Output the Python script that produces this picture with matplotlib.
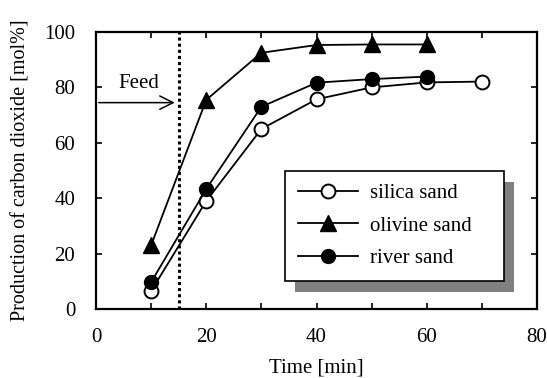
"""Carbon dioxide production vs time for three bed materials."""

import matplotlib
matplotlib.use('Agg')
import matplotlib.pyplot as plt
from matplotlib.patches import Rectangle
from matplotlib.transforms import offset_copy

plt.rcParams['font.family'] = ['Liberation Serif', 'DejaVu Serif']

# data
silica_t = [10, 20, 30, 40, 50, 60, 70]
silica_v = [6.5, 39, 65, 75.7, 80, 81.8, 82.1]
olivine_t = [10, 20, 30, 40, 50, 60]
olivine_v = [23, 75.5, 92.5, 95.3, 95.5, 95.5]
river_t = [10, 20, 30, 40, 50, 60]
river_v = [9.7, 43.3, 73, 81.7, 83, 83.9]
feed_time = 15

fig = plt.figure(figsize=(5.47, 3.78), dpi=100, facecolor='white')
ax = fig.add_axes([96 / 547, 1 - 309 / 378, (537 - 96) / 547, (309 - 32) / 378])

ms = 10
ax.plot(silica_t, silica_v, color='black', lw=1.3, marker='o', ms=ms,
        mfc='white', mec='black', mew=1.4, label='silica sand', zorder=3)
ax.plot(olivine_t, olivine_v, color='black', lw=1.3, marker='^', ms=ms + 1,
        mfc='black', mec='black', label='olivine sand', zorder=3)
ax.plot(river_t, river_v, color='black', lw=1.3, marker='o', ms=ms,
        mfc='black', mec='black', label='river sand', zorder=3)

# feed marker
ax.axvline(feed_time, color='black', lw=2.2, linestyle=(0, (1, 1)), zorder=2)
ax.annotate('', xy=(feed_time - 0.2, 74.5), xytext=(0, 74.5),
            arrowprops=dict(arrowstyle='->', color='black', lw=1.1,
                            mutation_scale=24))
ax.text(7.7, 81.5, 'Feed', ha='center', va='center', fontsize=15)

ax.set_xlim(0, 80)
ax.set_ylim(0, 100)
ax.set_xticks(range(0, 81, 20))
ax.set_xticks(range(10, 80, 20), minor=True)
ax.set_yticks(range(0, 101, 20))
ax.tick_params(which='both', direction='in', length=4, width=1.2,
               top=True, right=True, labelsize=15)
ax.tick_params(axis='x', pad=14)
ax.tick_params(axis='y', pad=15)
for spine in ax.spines.values():
    spine.set_linewidth(1.6)

ax.set_xlabel('Time [min]', fontsize=15, labelpad=8)
ax.set_ylabel('Production of carbon dioxide [mol%]', fontsize=14.5,
              labelpad=10)

leg_x0, leg_y1 = 285 / 547, 1 - 171 / 378
leg_w, leg_h = (504 - 285) / 547, (279 - 171) / 378
leg = ax.legend(loc='upper left', mode='expand',
                bbox_to_anchor=(leg_x0, leg_y1 - leg_h, leg_w, leg_h),
                bbox_transform=fig.transFigure, fontsize=15, frameon=True,
                fancybox=False, edgecolor='black', facecolor='white',
                framealpha=1, handlelength=2.9, labelspacing=0.62,
                borderpad=0.6, handletextpad=0.6, borderaxespad=0)
leg.get_frame().set_linewidth(1.2)
leg.set_zorder(6)

# drop shadow behind the legend box
fig.canvas.draw()
bb = leg.get_window_extent().transformed(fig.transFigure.inverted())
shadow = Rectangle((bb.x0, bb.y0), bb.width, bb.height,
                   transform=offset_copy(fig.transFigure, fig=fig,
                                         x=10, y=-11, units='dots'),
                   facecolor='#808080', edgecolor='none', zorder=5,
                   clip_on=False)
ax.add_patch(shadow)

fig.savefig('out.png', dpi=100, facecolor='white')
